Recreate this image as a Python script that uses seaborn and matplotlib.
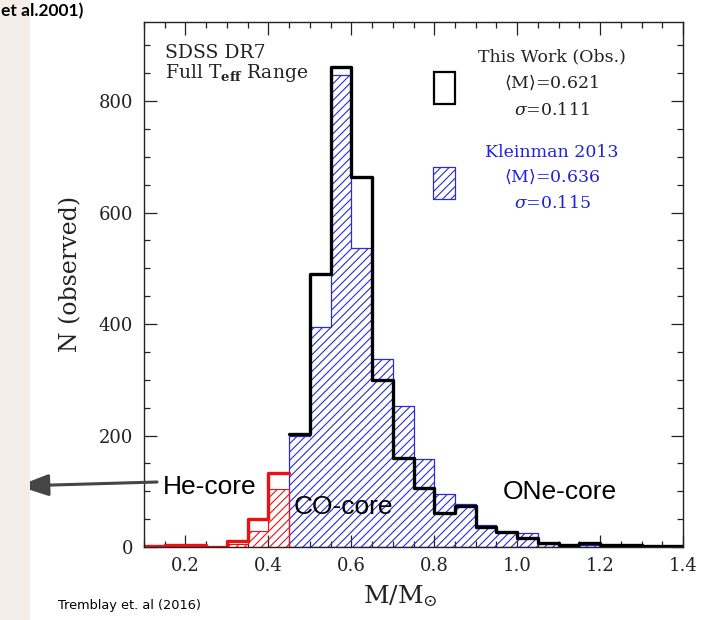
import matplotlib
matplotlib.use("Agg")
import matplotlib.pyplot as plt
import matplotlib.patches as mpatches
from matplotlib.ticker import MultipleLocator
import seaborn as sns

# Mass bins (M/Msun), 0.05 wide
he_edges = [0.10, 0.15, 0.20, 0.25, 0.30, 0.35, 0.40, 0.45]
co_edges = [0.45, 0.50, 0.55, 0.60, 0.65, 0.70, 0.75, 0.80, 0.85, 0.90,
            0.95, 1.00, 1.05, 1.10, 1.15, 1.20, 1.25, 1.30, 1.35, 1.40]

# He-core part (M < 0.45)
he_this_work = [2, 4, 4, 0, 10, 50, 132]
he_kleinman = [0, 0, 0, 0, 5, 29, 104]

# CO / ONe part (M >= 0.45)
this_work = [202, 490, 862, 664, 300, 160, 106, 61, 74, 35,
             27, 16, 7, 4, 7, 3, 3, 2, 1]
kleinman = [200, 394, 847, 536, 337, 253, 158, 95, 77, 39,
            27, 26, 6, 4, 3, 3, 2, 2, 1]

x_ticks = [0.2, 0.4, 0.6, 0.8, 1.0, 1.2, 1.4]
y_ticks = [0, 200, 400, 600, 800]

legend_this = ["This Work (Obs.)", r"$\langle$M$\rangle$=0.621", r"$\sigma$=0.111"]
legend_klein = ["Kleinman 2013", r"$\langle$M$\rangle$=0.636", r"$\sigma$=0.115"]

sns.set_style("ticks")
plt.rcParams["font.family"] = ["DejaVu Serif"]
plt.rcParams["mathtext.fontset"] = "dejavuserif"
plt.rcParams["hatch.linewidth"] = 0.8

W, H = 721, 620
fig = plt.figure(figsize=(W / 100, H / 100), dpi=100)
fig.patch.set_facecolor("white")

# warm strip on the left edge of the slide
fig.patches.append(mpatches.Rectangle((0, 0), 30 / W, 1, transform=fig.transFigure,
                                      facecolor="#f5eee8", edgecolor="none", zorder=0))

ax = fig.add_axes([144 / W, 1 - 547 / H, (683 - 144) / W, (547 - 22) / H])


def centres(edges):
    return [(a + b) / 2 for a, b in zip(edges[:-1], edges[1:])]


BLUE = "#2a2ad8"
RED = "#ee1111"

# hatched Kleinman (2013) histogram
sns.histplot(x=centres(co_edges), weights=kleinman, bins=co_edges, element="step",
             fill=True, color=BLUE, facecolor="none", edgecolor=BLUE, hatch="////",
             linewidth=0.9, ax=ax)
sns.histplot(x=centres(he_edges), weights=he_kleinman, bins=he_edges, element="step",
             fill=True, color=RED, facecolor="none", edgecolor=RED, hatch="////",
             linewidth=0.8, ax=ax)

# observed histogram (this work)
sns.histplot(x=centres(co_edges), weights=this_work, bins=co_edges, element="step",
             fill=False, color="black", linewidth=2.4, ax=ax)
sns.histplot(x=centres(he_edges), weights=he_this_work, bins=he_edges, element="step",
             fill=False, color=RED, linewidth=2.4, ax=ax)

ax.set_xlim(0.1, 1.4)
ax.set_ylim(0, 942)
ax.set_xticks(x_ticks)
ax.set_xticklabels([f"{v:.1f}" for v in x_ticks])
ax.set_yticks(y_ticks)
ax.xaxis.set_minor_locator(MultipleLocator(0.05))
ax.yaxis.set_minor_locator(MultipleLocator(50))
ax.tick_params(which="both", direction="in", top=True, right=True, width=0.9,
               color="#222222")
ax.tick_params(which="major", length=9, labelsize=13, labelcolor="#222222")
ax.tick_params(which="minor", length=4.5)
ax.tick_params(axis="x", pad=7)
ax.tick_params(axis="y", pad=8)
for s in ax.spines.values():
    s.set_linewidth(1.0)
    s.set_color("#222222")

ax.set_xlabel(r"$\mathrm{M/M_{\odot}}$", fontsize=18, labelpad=6, x=0.475,
              color="#222222")
ax.set_ylabel("N (observed)", fontsize=17, labelpad=12, y=0.52, color="#222222")

# panel caption
ax.text(0.039, 0.931, "SDSS DR7", transform=ax.transAxes, fontsize=13.5,
        ha="left", va="baseline", color="#222222")
ax.text(0.039, 0.893, r"Full T$_{\mathbf{eff}}$ Range", transform=ax.transAxes,
        fontsize=13.5, ha="left", va="baseline", color="#222222")

# legend keys
ax.add_patch(mpatches.Rectangle((0.538, 0.844), 0.039, 0.06, transform=ax.transAxes,
                                facecolor="none", edgecolor="black", linewidth=1.6))
ax.add_patch(mpatches.Rectangle((0.536, 0.663), 0.041, 0.061, transform=ax.transAxes,
                                facecolor="none", edgecolor=BLUE, hatch="////",
                                linewidth=0.9))
for txt, yy in zip(legend_this, [0.933, 0.884, 0.832]):
    ax.text(0.757, yy, txt, transform=ax.transAxes, fontsize=12.5, ha="center",
            va="center", color="#222222")
for txt, yy in zip(legend_klein, [0.752, 0.705, 0.655]):
    ax.text(0.757, yy, txt, transform=ax.transAxes, fontsize=12.5, ha="center",
            va="center", color="#2020e0")

# core composition labels
for txt, xx, yy in [("He-core", 0.259, 108), ("CO-core", 0.58, 72), ("ONe-core", 1.102, 99)]:
    ax.text(xx, yy, txt, fontsize=19, family=["Liberation Sans"], ha="center",
            va="center", color="black")

ax.annotate("", xy=(18, H - 486), xytext=(157, H - 482), xycoords="figure pixels",
            textcoords="figure pixels", annotation_clip=False,
            arrowprops=dict(arrowstyle="-|>,head_length=0.45,head_width=0.16",
                            mutation_scale=42, lw=2.2, color="#454545",
                            shrinkA=0, shrinkB=0))

fig.text(58 / W, 14 / H, "Tremblay et. al (2016)", fontsize=9.3,
         family=["DejaVu Sans"], ha="left", va="center", color="black")
fig.text(1 / W, 1 - 16 / H, "et al.2001)", fontsize=12.5, family=["Lato", "DejaVu Sans"],
         weight="bold", ha="left", va="baseline", color="black")

fig.savefig("out.png", dpi=100)
